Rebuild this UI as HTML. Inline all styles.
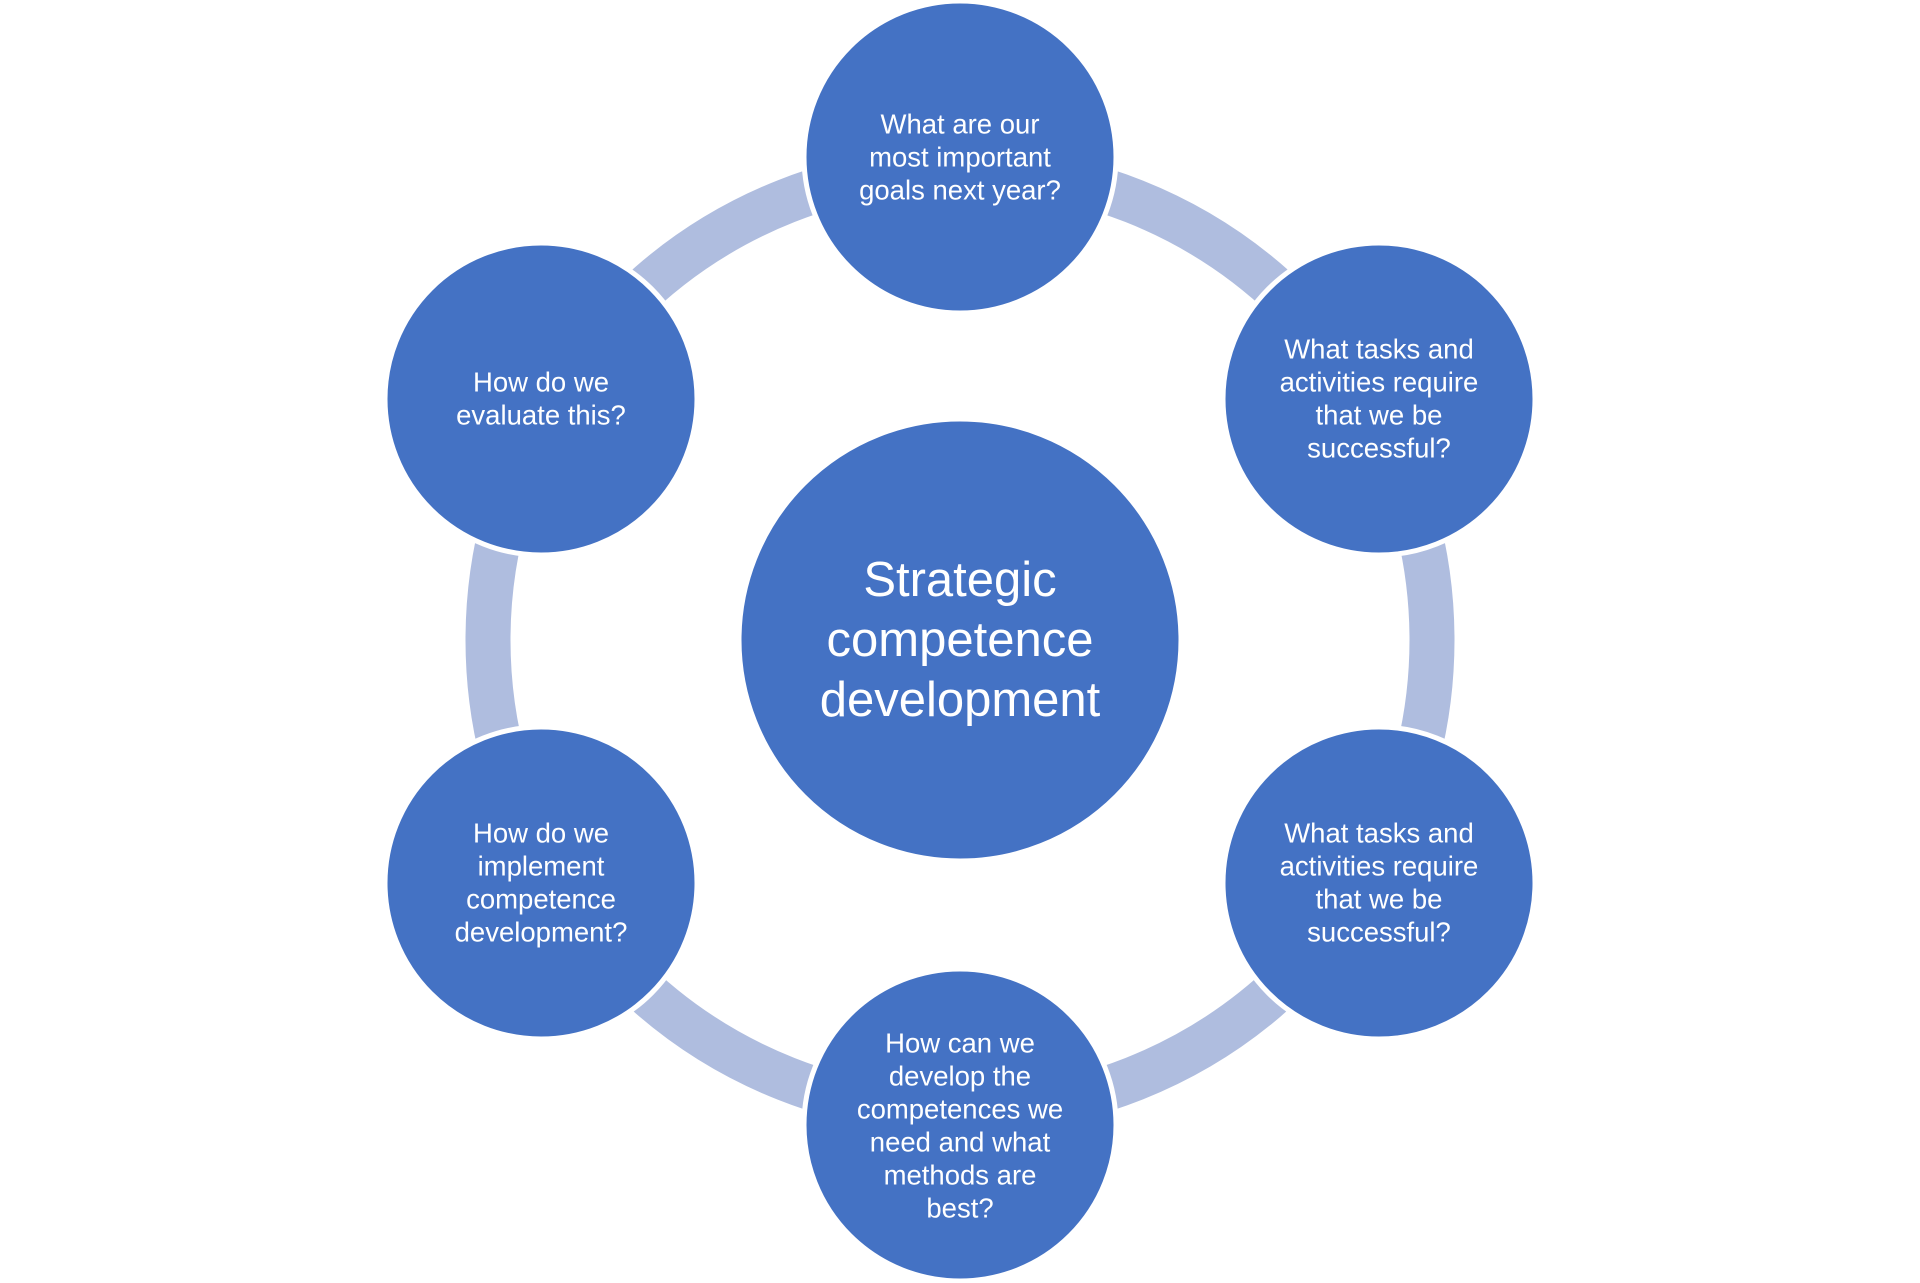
<!DOCTYPE html>
<html><head><meta charset="utf-8"><style>
html,body{margin:0;padding:0;background:#fff;}
svg{display:block}
text{font-family:"Liberation Sans",sans-serif;fill:#fff;text-anchor:middle;dominant-baseline:central}
.s{font-size:27.5px}
.c{font-size:49px}
</style></head><body>
<svg width="1920" height="1283" viewBox="0 0 1920 1283">
<circle cx="960" cy="640" r="472" fill="none" stroke="#AFBDDF" stroke-width="45"/>
<g fill="#4472C4" stroke="#fff" stroke-width="5">
<circle cx="960" cy="640" r="221"/>
<circle cx="960" cy="157" r="156"/>
<circle cx="1379" cy="399" r="156"/>
<circle cx="1379" cy="883" r="156"/>
<circle cx="960" cy="1125" r="156"/>
<circle cx="541" cy="883" r="156"/>
<circle cx="541" cy="399" r="156"/>
</g>
<g class="c">
<text x="960" y="580">Strategic</text>
<text x="960" y="640">competence</text>
<text x="960" y="700">development</text>
</g>
<g class="s">
<text x="960" y="124">What are our</text>
<text x="960" y="157">most important</text>
<text x="960" y="190">goals next year?</text>

<text x="1379" y="349">What tasks and</text>
<text x="1379" y="382">activities require</text>
<text x="1379" y="415">that we be</text>
<text x="1379" y="448">successful?</text>

<text x="1379" y="833">What tasks and</text>
<text x="1379" y="866">activities require</text>
<text x="1379" y="899">that we be</text>
<text x="1379" y="932">successful?</text>

<text x="960" y="1043">How can we</text>
<text x="960" y="1076">develop the</text>
<text x="960" y="1109">competences we</text>
<text x="960" y="1142">need and what</text>
<text x="960" y="1175">methods are</text>
<text x="960" y="1208">best?</text>

<text x="541" y="833">How do we</text>
<text x="541" y="866">implement</text>
<text x="541" y="899">competence</text>
<text x="541" y="932">development?</text>

<text x="541" y="382">How do we</text>
<text x="541" y="415">evaluate this?</text>
</g>
</svg>
</body></html>
